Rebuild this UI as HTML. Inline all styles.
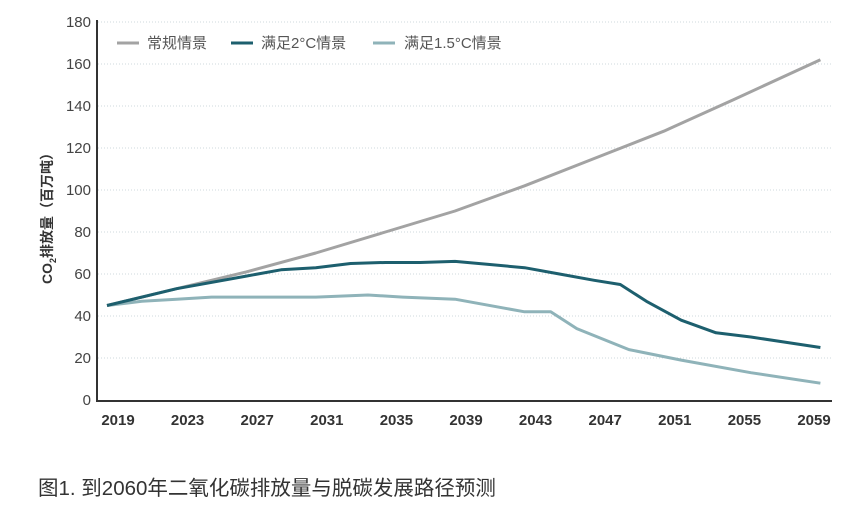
<!DOCTYPE html>
<html><head><meta charset="utf-8"><style>
body{margin:0;background:#fff;width:865px;height:504px;overflow:hidden;font-family:"Liberation Sans","Noto Sans CJK SC",sans-serif}
</style></head><body>
<svg width="865" height="504" viewBox="0 0 865 504">
<g id="grid"></g>
<g id="yticks" font-size="15" fill="#444" text-anchor="end"></g>
<g id="xticks" font-size="15" font-weight="bold" fill="#333" text-anchor="middle"></g>
<line x1="97" y1="20" x2="97" y2="401" stroke="#333" stroke-width="2"/>
<line x1="96" y1="401" x2="832" y2="401" stroke="#333" stroke-width="2"/>
<text transform="translate(52,215) rotate(-90)" text-anchor="middle" font-size="14" font-weight="bold" fill="#333">CO<tspan font-size="9" dy="4">2</tspan><tspan dy="-4">排放量（百万吨）</tspan></text>
<g id="series"></g>
<g font-size="15" fill="#555">
<line x1="117" y1="43" x2="139" y2="43" stroke="#a3a3a3" stroke-width="3"/>
<text x="147" y="48">常规情景</text>
<line x1="231" y1="43" x2="253" y2="43" stroke="#1d5f6e" stroke-width="3"/>
<text x="261" y="48">满足2°C情景</text>
<line x1="373" y1="43" x2="395" y2="43" stroke="#8fb3b9" stroke-width="3"/>
<text x="404" y="48">满足1.5°C情景</text>
</g>
<text x="38" y="495" font-size="20.5" fill="#333">图1. 到2060年二氧化碳排放量与脱碳发展路径预测</text>
</svg>
<script>
const yTicks=[0,20,40,60,80,100,120,140,160,180];
const xTickLabels=[2019,2023,2027,2031,2035,2039,2043,2047,2051,2055,2059];
const bauYears=[2019,2023,2027,2031,2035,2039,2043,2047,2051,2055,2060];
const bauValues=[45,53,61,70,80,90,102,115,128,143,162];
const c2Years=[2019,2023,2027,2029,2031,2033,2035,2037,2039,2041,2043,2045,2047,2048.5,2050,2052,2054,2056,2058,2060];
const c2Values=[45,53,59,62,63,65,65.5,65.5,66,64.5,63,60,57,55,47,38,32,30,27.5,25];
const c15Years=[2019,2021,2023,2025,2029,2031,2034,2036,2039,2043,2044.5,2046,2049,2052,2056,2060];
const c15Values=[45,47,48,49,49,49,50,49,48,42,42,34,24,19,13,8];
const NS="http://www.w3.org/2000/svg";
const x=yr=>107+(yr-2019)*17.4;
const y=v=>400-v*2.1;
function mk(tag,attrs,parent){const e=document.createElementNS(NS,tag);for(const k in attrs)e.setAttribute(k,attrs[k]);document.getElementById(parent).appendChild(e);return e;}
yTicks.forEach(v=>{
  if(v>0){const g=mk('line',{x1:98,x2:832,y1:y(v),y2:y(v),stroke:'#cfd8dc','stroke-width':1,'stroke-dasharray':'1 2'},'grid');
  
  }
  const t=mk('text',{x:91,y:y(v)+5},'yticks');t.textContent=v;
  
  
});
xTickLabels.forEach(yr=>{
  const t=mk('text',{x:x(yr)+11,y:425},'xticks');t.textContent=yr;
  
  
});
function line(ys,vs,color,name){
  const p=mk('polyline',{points:ys.map((yr,i)=>x(yr)+','+y(vs[i])).join(' '),fill:'none',stroke:color,'stroke-width':3,'stroke-linejoin':'round'},'series');
  
  
}
line(c15Years,c15Values,'#8fb3b9','line-1-5c');
line(bauYears,bauValues,'#a3a3a3','line-bau');
line(c2Years,c2Values,'#1d5f6e','line-2c');
</script>
</body></html>
